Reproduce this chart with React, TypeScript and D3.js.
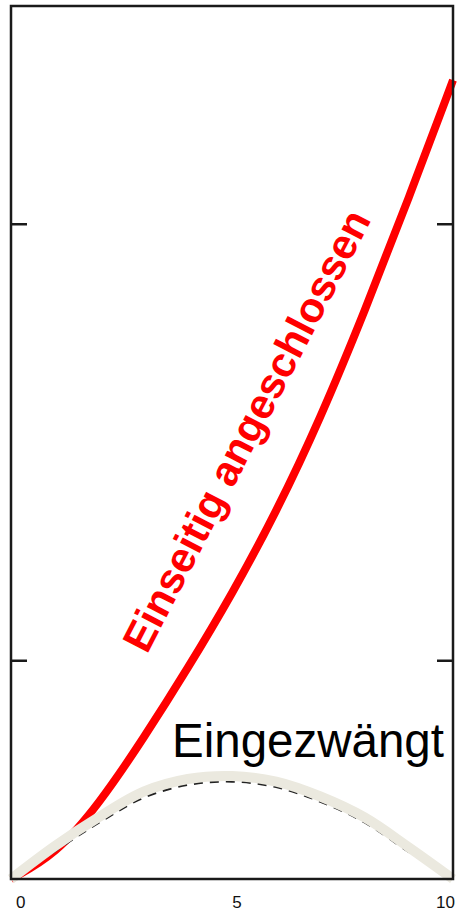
import React from "react";
import * as d3 from "d3";

// Horizontal positions of the samples
const xs = [0, 1, 2, 3, 4, 5, 6, 7, 8, 9, 10];

// "Einseitig angeschlossen" – one side connected
const einseitig = [0, 0.11, 0.345, 0.645, 0.965, 1.305, 1.68, 2.11, 2.6, 3.12, 3.66];

// "Eingezwängt" – clamped on both sides
const eingezwaengt = [0, 0.152, 0.285, 0.4, 0.458, 0.472, 0.446, 0.378, 0.282, 0.145, 0];

// Reference curve drawn dashed beneath the clamped one
const referenz = [0, 0.13, 0.26, 0.373, 0.432, 0.447, 0.422, 0.355, 0.26, 0.125, 0];

const xTicks = [0, 5, 10];
const xTickLabels = ["0", "5", "10"];
const yTicks = [1, 3];

const W = 457;
const H = 913;

export default function App() {
  const left = 11;
  const right = 453;
  const top = 6;
  const bottom = 879;

  const x = d3.scaleLinear().domain([0, 10]).range([left, right]);
  const y = d3.scaleLinear().domain([0, 4]).range([bottom, top]);

  const smooth = d3
    .line<[number, number]>()
    .x((d) => x(d[0]))
    .y((d) => y(d[1]))
    .curve(d3.curveBasis);

  const through = d3
    .line<[number, number]>()
    .x((d) => x(d[0]))
    .y((d) => y(d[1]))
    .curve(d3.curveCatmullRom.alpha(0.5));

  const pts = (vals: number[]) => xs.map((v, i) => [v, vals[i]] as [number, number]);

  const tickLen = 16;
  const labelAnchor = ["start", "middle", "end"];
  const labelDx = [5, 5, 2];

  return (
    <svg
      width={W}
      height={H}
      style={{ position: "absolute", left: 0, top: 0, background: "#fff" }}
      fontFamily="'Liberation Sans', Arial, sans-serif"
    >
      <rect x={0} y={0} width={W} height={H} fill="#fff" />

      {/* red curve */}
      <path d={smooth(pts(einseitig)) || ""} fill="none" stroke="#ff0000" strokeWidth={8} strokeLinecap="butt" />

      {/* dashed reference under the clamped curve */}
      <path
        d={through(pts(referenz)) || ""}
        fill="none"
        stroke="#222"
        strokeWidth={2.4}
        strokeDasharray="9 7"
      />

      {/* clamped curve */}
      <path d={through(pts(eingezwaengt)) || ""} fill="none" stroke="#ebe9df" strokeWidth={10} strokeLinecap="butt" />

      {/* frame */}
      <rect
        x={left}
        y={top}
        width={right - left}
        height={bottom - top}
        fill="none"
        stroke="#1a1a1a"
        strokeWidth={2.5}
      />

      {/* y ticks on both sides */}
      {yTicks.map((t) => (
        <g key={t}>
          <line x1={left} x2={left + tickLen} y1={y(t)} y2={y(t)} stroke="#1a1a1a" strokeWidth={2.5} />
          <line x1={right - tickLen} x2={right} y1={y(t)} y2={y(t)} stroke="#1a1a1a" strokeWidth={2.5} />
        </g>
      ))}

      {/* x tick labels */}
      {xTicks.map((t, i) => (
        <text
          key={t}
          x={x(t) + labelDx[i]}
          y={908}
          fontSize={17}
          textAnchor={labelAnchor[i] as any}
          fill="#111"
        >
          {xTickLabels[i]}
        </text>
      ))}

      {/* curve labels */}
      <text
        x={147}
        y={655}
        fontSize={42}
        fontWeight="bold"
        fill="#ff0000"
        transform="rotate(-62.7 147 655)"
      >
        Einseitig angeschlossen
      </text>
      <text x={172} y={757} fontSize={47.5} fill="#000">
        Eingezwängt
      </text>
    </svg>
  );
}
